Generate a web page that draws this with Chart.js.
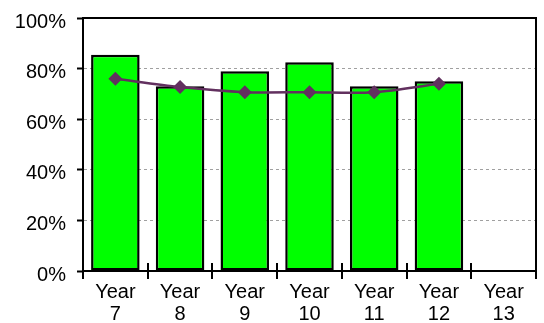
<!DOCTYPE html>
<html>
<head>
<meta charset="UTF-8" />
<script src="https://cdn.jsdelivr.net/npm/chart.js@4.4.4/dist/chart.umd.min.js"></script>
<style>
  html, body { margin: 0; padding: 0; background: #fff; }
  .wrap { width: 544px; height: 323px; position: relative; }
</style>
</head>
<body>
<div class="wrap"><canvas id="chart"></canvas></div>
<script>
  // categories and values (percent)
  const years = [['Year', '7'], ['Year', '8'], ['Year', '9'], ['Year', '10'], ['Year', '11'], ['Year', '12'], ['Year', '13']]
  const barValues = [85.5, 73, 79, 82.5, 73, 75, null]
  const lineValues = [76, 72.7, 70.7, 70.7, 70.7, 74, null]
  const yTicks = [0, 20, 40, 60, 80, 100]

  const FONT = 'Liberation Sans, Arial, sans-serif'

  // box around plot area + crossing tick marks on the category axis
  const frame = {
    id: 'frame',
    afterDraw(chart) {
      const {ctx, chartArea: a, scales} = chart
      const x = scales.x
      const n = years.length
      ctx.save()
      ctx.strokeStyle = '#000'
      ctx.lineWidth = 2
      ctx.strokeRect(a.left, a.top, a.right - a.left, a.bottom - a.top)
      ctx.beginPath()
      for (let i = 0; i <= n; i++) {
        const px = Math.round(x.left + i * (x.width / n))
        ctx.moveTo(px, a.bottom - 8)
        ctx.lineTo(px, a.bottom + 8)
      }
      ctx.stroke()
      ctx.restore()
    },
  }

  new Chart(document.getElementById('chart'), {
    data: {
      labels: years,
      datasets: [
        {
          type: 'line',
          data: lineValues,
          borderColor: '#62305f',
          backgroundColor: '#62305f',
          borderWidth: 2.5,
          tension: 0.3,
          pointStyle: 'rectRot',
          pointRadius: 7,
          pointBorderWidth: 0,
          order: 0,
        },
        {
          type: 'bar',
          data: barValues,
          backgroundColor: '#00ff00',
          borderColor: '#000',
          borderWidth: 2.5,
          borderSkipped: false,
          barPercentage: 0.75,
          categoryPercentage: 1,
          order: 1,
        },
      ],
    },
    options: {
      responsive: true,
      maintainAspectRatio: false,
      animation: false,
      layout: { padding: { top: 18, right: 8, bottom: 0, left: 0 } },
      plugins: { legend: { display: false }, tooltip: { enabled: false } },
      scales: {
        x: {
          grid: { display: false, drawTicks: false },
          border: { display: false },
          ticks: { color: '#000', padding: 11, font: { family: FONT, size: 20, lineHeight: 1.08 } },
          afterFit(s) {
            s.height = 52
            s.paddingLeft = 0
            s.paddingRight = 0
          },
        },
        y: {
          min: 0,
          max: 100,
          afterBuildTicks(s) { s.ticks = yTicks.map((v) => ({value: v})) },
          grid: {
            color: '#a0a0a0',
            lineWidth: 1,
            tickLength: 6,
            tickColor: '#000',
            tickWidth: 2,
            tickBorderDash: [],
          },
          border: { color: '#000', width: 2, dash: [3, 3] },
          ticks: {
            color: '#000',
            padding: 11,
            labelOffset: 4,
            font: { family: FONT, size: 20 },
            callback: (v) => v + '%',
          },
          afterFit(s) {
            s.width = 83
            s.paddingTop = 0
            s.paddingBottom = 0
          },
        },
      },
    },
    plugins: [frame],
  })
</script>
</body>
</html>
